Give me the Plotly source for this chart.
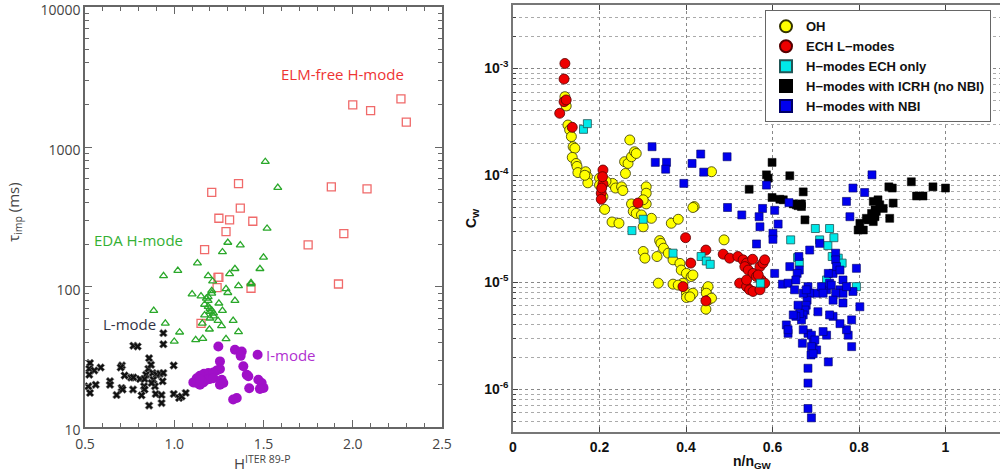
import plotly.graph_objects as go
import numpy as np

# ---------------- Left panel data ----------------
elm_x = [2.00, 2.10, 2.27, 2.30, 1.88, 2.08, 1.21, 1.36, 1.37, 1.25, 1.31, 1.44, 1.29, 1.95, 1.75, 1.17, 1.245, 1.25, 1.24, 1.43, 1.92, 1.15]
elm_y = [2003, 1825, 2210, 1507, 519, 502, 475, 548, 366, 310, 302, 295, 249, 241, 200, 185, 117, 117, 99, 98, 105, 55]

eda_x = [1.51, 1.58, 1.52, 1.30, 1.37, 1.27, 1.13, 1.50, 1.48, 1.34, 1.31, 1.19, 1.02, 0.94, 1.215, 1.43, 1.43, 1.29, 1.36, 1.30,
         1.21, 1.10, 1.15, 1.18, 1.21, 1.25, 1.34, 1.17, 1.19, 1.20, 1.22, 1.27, 1.17, 1.20, 1.245, 1.33, 1.265, 0.885, 0.95, 1.157,
         1.197, 1.03, 1.36, 1.00, 1.12, 1.16, 1.29, 1.19, 1.20, 1.21, 1.22, 1.19]
eda_y = [786, 513, 262, 208, 199, 178, 148, 163, 135, 135, 124, 120, 131, 120, 110, 107, 105, 97, 102, 91,
         94, 89, 86, 83, 90, 76.5, 80, 75, 72.4, 66.7, 64.9, 67.8, 63, 59.8, 57.5, 57.5, 52.7, 67.8, 55, 55,
         49.9, 47.5, 47.8, 40.8, 41.9, 42.8, 42.6, 80, 70, 68, 62, 85]

lmode_x = [0.939, 0.939, 0.771, 0.795, 0.859, 0.997, 0.528, 0.524, 0.588, 0.552, 0.524, 0.707, 0.700, 0.722, 0.758, 0.771, 0.842,
           0.855, 0.870, 0.879, 0.901, 0.883, 0.920, 0.939, 0.640, 0.640, 0.560, 0.519, 0.528, 0.705, 0.711, 0.769, 0.831,
           0.834, 0.892, 0.935, 0.896, 0.929, 0.929, 0.677, 0.817, 0.859, 0.997, 1.027, 1.042, 1.064, 0.808, 0.834, 0.873]
lmode_y = [46.8, 39.0, 38.0, 37.6, 31.0, 27.5, 28.6, 26.0, 26.6, 25.3, 23.6, 27.5, 26.6, 23.3, 22.5, 22.6, 23.6,
           26.0, 27.8, 24.3, 23.6, 21.7, 24.0, 24.3, 21.2, 20.0, 20.0, 19.5, 17.5, 19.0, 18.5, 18.5, 19.5,
           18.5, 19.5, 21.2, 17.2, 16.9, 14.8, 16.9, 16.8, 14.2, 17.2, 16.1, 16.5, 17.5, 22.0, 22.0, 20.6]

imode_x = [1.247, 1.34, 1.378, 1.372, 1.467, 1.256, 1.387, 1.256, 1.406, 1.415, 1.238, 1.219, 1.191, 1.167, 1.144, 1.126, 1.107,
           1.126, 1.144, 1.163, 1.182, 1.20, 1.219, 1.266, 1.256, 1.275, 1.471, 1.49, 1.50, 1.42, 1.48, 1.35, 1.33, 1.154, 1.144]
imode_y = [37.6, 35.6, 34.6, 32.2, 32.8, 29.4, 27.1, 25.9, 23.6, 23.0, 25.3, 24.5, 24.3, 24.0, 23.2, 22.3, 20.8,
           20.6, 20.0, 20.8, 21.7, 22.0, 22.3, 21.7, 20.0, 20.6, 21.7, 20.6, 19.0, 18.9, 18.7, 16.1, 15.7, 21.2, 22.0]

# ---------------- Right panel data ----------------
oh_x = [0.123, 0.120, 0.127, 0.131, 0.135, 0.139, 0.143, 0.137, 0.146, 0.148, 0.150, 0.168, 0.172, 0.173, 0.200, 0.200, 0.212,
        0.208, 0.230, 0.237, 0.251, 0.254, 0.229, 0.245, 0.270, 0.258, 0.266, 0.274, 0.281, 0.285, 0.260, 0.274, 0.278, 0.285,
        0.297, 0.308, 0.308, 0.320, 0.301, 0.366, 0.382, 0.339, 0.342, 0.301, 0.305, 0.333, 0.348, 0.359, 0.370, 0.386, 0.389,
        0.401, 0.412, 0.393, 0.370, 0.382, 0.401, 0.416, 0.447, 0.451, 0.447, 0.451, 0.459, 0.446, 0.401, 0.409, 0.416, 0.419,
        0.416, 0.459, 0.488, 0.336, 0.308, 0.301, 0.166, 0.215]
oh_y = [4.45e-4, 5.43e-4, 2.95e-4, 2.65e-4, 2.3e-4, 1.85e-4, 1.79e-4, 1.47e-4, 1.29e-4, 1.21e-4, 1.06e-4, 1.08e-4, 9.7e-5, 8.5e-5,
        9.4e-5, 8.1e-5, 4.8e-5, 6.3e-5, 8.4e-5, 7.6e-5, 7.8e-5, 7.2e-5, 3.66e-5, 3.56e-5, 2.14e-4, 1.34e-4, 1.29e-4, 1.49e-4,
        1.66e-4, 1.6e-4, 1.04e-4, 5.4e-5, 4.6e-5, 4.4e-5, 4.26e-5, 7.8e-5, 5.4e-5, 3.96e-5, 3.3e-5, 3.56e-5, 3.88e-5, 2.45e-5,
        2.31e-5, 1.94e-5, 1.68e-5, 1.74e-5, 2.08e-5, 1.87e-5, 1.62e-5, 1.5e-5, 1.3e-5, 1.21e-5, 1.13e-5, 9.8e-6, 9.6e-6, 9.4e-6,
        7.9e-6, 7.9e-6, 8.5e-6, 9.1e-6, 7.9e-6, 6.8e-6, 7.1e-6, 5.6e-6, 7.2e-6, 7.3e-6, 1.17e-5, 5.1e-5, 5.0e-5, 1.08e-4,
        2.49e-5, 9.8e-6, 6.8e-5, 5.9e-5, 1.0e-4, 8.8e-5]

ech_x = [0.120, 0.118, 0.118, 0.123, 0.108, 0.137, 0.208, 0.208, 0.204, 0.204, 0.207, 0.205, 0.289, 0.399, 0.411, 0.446, 0.393,
         0.446, 0.486, 0.501, 0.520, 0.532, 0.540, 0.554, 0.536, 0.544, 0.555, 0.571, 0.578, 0.582, 0.563, 0.574, 0.582, 0.524,
         0.540, 0.547, 0.555, 0.571, 0.567, 0.540]
ech_y = [1.11e-3, 7.94e-4, 4.88e-4, 5.06e-4, 3.8e-4, 2.81e-4, 1.12e-4, 8.3e-5, 6.8e-5, 5.97e-5, 9.7e-5, 7.6e-5, 5.5e-5, 2.61e-5,
         1.51e-5, 2.0e-5, 9.1e-6, 6.7e-6, 1.83e-5, 1.68e-5, 1.74e-5, 1.62e-5, 1.51e-5, 1.64e-5, 1.4e-5, 1.3e-5, 1.21e-5, 1.4e-5,
         1.51e-5, 1.62e-5, 1.13e-5, 1.05e-5, 9.8e-6, 9.8e-6, 9.1e-6, 8.5e-6, 8.2e-6, 8.5e-6, 1.17e-5, 1.05e-5]

echh_x = [0.163, 0.172, 0.275, 0.301, 0.370, 0.435, 0.447, 0.456, 0.572, 0.699, 0.732, 0.709, 0.728, 0.742, 0.642, 0.658, 0.662,
          0.752, 0.761, 0.794, 0.725, 0.738]
echh_y = [2.69e-4, 3.04e-4, 3.04e-5, 3.88e-5, 1.87e-5, 1.74e-5, 1.58e-5, 1.47e-5, 9.8e-6, 3.18e-5, 3.18e-5, 2.49e-5, 2.2e-5,
          2.61e-5, 2.49e-5, 1.7e-5, 1.54e-5, 1.68e-5, 1.51e-5, 9.1e-6, 1.05e-5, 1.74e-5]

icrh_x = [0.599, 0.586, 0.590, 0.640, 0.546, 0.599, 0.617, 0.625, 0.648, 0.659, 0.667, 0.671, 0.675, 0.667, 0.655, 0.823, 0.802,
          0.798, 0.810, 0.821, 0.833, 0.837, 0.840, 0.833, 0.844, 0.848, 0.856, 0.837, 0.871, 0.879, 0.869, 0.877, 0.921, 0.933,
          0.948, 0.971, 1.000, 0.817, 0.829]
icrh_y = [1.32e-4, 1.01e-4, 9.4e-5, 9.9e-5, 7.4e-5, 6.2e-5, 5.97e-5, 5.9e-5, 5.4e-5, 5.2e-5, 5.4e-5, 7.0e-5, 3.83e-5, 5.1e-5,
          5.3e-5, 3.88e-5, 3.56e-5, 3.08e-5, 3.08e-5, 3.83e-5, 3.69e-5, 4.1e-5, 4.6e-5, 5.7e-5, 5.9e-5, 5.3e-5, 4.9e-5, 4.75e-5,
          3.96e-5, 5.5e-5, 7.8e-5, 7.6e-5, 8.7e-5, 6.4e-5, 6.4e-5, 7.8e-5, 7.6e-5, 3.96e-5, 4.4e-5]

nbi_x = [0.3215, 0.329, 0.355, 0.353, 0.414, 0.434, 0.441, 0.495, 0.395, 0.496, 0.529, 0.577, 0.569, 0.571, 0.563, 0.586, 0.605,
         0.613, 0.601, 0.601, 0.638, 0.605, 0.623, 0.636, 0.640, 0.661, 0.662, 0.686, 0.709, 0.746, 0.746, 0.771, 0.779, 0.786,
         0.813, 0.830, 0.794, 0.802, 0.786, 0.783, 0.783, 0.775, 0.771, 0.756, 0.740, 0.732, 0.725, 0.717, 0.729, 0.705, 0.702,
         0.682, 0.686, 0.680, 0.678, 0.675, 0.671, 0.667, 0.663, 0.659, 0.654, 0.648, 0.682, 0.671, 0.690, 0.694, 0.702, 0.698,
         0.690, 0.689, 0.694, 0.682, 0.682, 0.682, 0.690, 0.669, 0.636, 0.632, 0.636, 0.725, 0.732, 0.736, 0.740, 0.748, 0.756,
         0.763, 0.756, 0.763, 0.771, 0.746, 0.740, 0.763, 0.729, 0.713, 0.717, 0.657, 0.654, 0.651, 0.671, 0.678]
nbi_y = [1.85e-4, 1.32e-4, 1.32e-4, 1.14e-4, 1.29e-4, 1.58e-4, 1.07e-4, 1.49e-4, 8.4e-5, 5.0e-5, 4.26e-5, 4.9e-5, 4.1e-5, 3.3e-5,
         2.28e-5, 8.1e-5, 4.7e-5, 3.5e-5, 2.87e-5, 2.52e-5, 5.55e-5, 1.21e-5, 9.6e-6, 9.8e-6, 1.4e-5, 1.74e-5, 1.3e-5, 2.0e-5,
         2.31e-5, 1.87e-5, 1.62e-5, 5.7e-5, 4.1e-5, 7.6e-5, 6.9e-5, 1.01e-4, 1.35e-5, 5.9e-6, 8.2e-6, 4.45e-6, 2.5e-6, 3.2e-6,
         3.6e-6, 4.1e-6, 4.8e-6, 4.95e-6, 3.2e-6, 3.46e-6, 1.8e-6, 5.3e-6, 7.9e-6, 9.1e-6, 7.9e-6, 6.8e-6, 6.1e-6, 5.5e-6,
         4.95e-6, 4.45e-6, 5.1e-6, 6.1e-6, 4.8e-6, 4.95e-6, 3.33e-6, 3.6e-6, 3.2e-6, 2.69e-6, 2.33e-6, 2.89e-6, 2.5e-6, 2.09e-6,
         2.15e-6, 1.57e-6, 1.14e-6, 6.6e-7, 5.4e-7, 2.69e-6, 3.33e-6, 3.99e-6, 3.6e-6, 8.5e-6, 9.8e-6, 9.4e-6, 1.21e-5, 1.4e-5,
         1.3e-5, 1.05e-5, 8.5e-6, 7.9e-6, 9.1e-6, 7.9e-6, 6.8e-6, 6.4e-6, 1.21e-5, 9.1e-6, 7.9e-6, 1.21e-5, 1.05e-5, 8.5e-6,
         7.9e-6, 8.5e-6]

left_xticks = [0.5, 1.0, 1.5, 2.0, 2.5]
left_yticks = [10, 100, 1000, 10000]
right_xticks = [0, 0.2, 0.4, 0.6, 0.8, 1]
right_yticks = [1e-6, 1e-5, 1e-4, 1e-3]
right_yticktext = ["10<sup>-6</sup>", "10<sup>-5</sup>", "10<sup>-4</sup>", "10<sup>-3</sup>"]

fig = go.Figure()

# Left panel traces
fig.add_trace(go.Scatter(x=elm_x, y=elm_y, mode="markers", xaxis="x", yaxis="y", showlegend=False,
                         marker=dict(symbol="square-open", size=8, color="#f06a6a", line=dict(width=1.3))))
fig.add_trace(go.Scatter(x=eda_x, y=eda_y, mode="markers", xaxis="x", yaxis="y", showlegend=False,
                         marker=dict(symbol="triangle-up-open", size=7, color="#2aa82a", line=dict(width=1.3))))
fig.add_trace(go.Scatter(x=lmode_x, y=lmode_y, mode="markers", xaxis="x", yaxis="y", showlegend=False,
                         marker=dict(symbol="x", size=7, color="#111111", line=dict(width=0.6, color="#777777"))))
fig.add_trace(go.Scatter(x=imode_x, y=imode_y, mode="markers", xaxis="x", yaxis="y", showlegend=False,
                         marker=dict(symbol="circle", size=10, color="#a010c8", line=dict(width=0))))

# Right panel traces
fig.add_trace(go.Scatter(x=oh_x, y=oh_y, mode="markers", xaxis="x2", yaxis="y2", name="OH",
                         marker=dict(symbol="circle", size=10, color="#ffff00", line=dict(width=0.8, color="#333300"))))
fig.add_trace(go.Scatter(x=ech_x, y=ech_y, mode="markers", xaxis="x2", yaxis="y2", name="ECH L\u2212modes",
                         marker=dict(symbol="circle", size=10, color="#ee0000", line=dict(width=0.8, color="#550000"))))
fig.add_trace(go.Scatter(x=echh_x, y=echh_y, mode="markers", xaxis="x2", yaxis="y2", name="H\u2212modes ECH only",
                         marker=dict(symbol="square", size=8, color="#00e8e8", line=dict(width=0.8, color="#225555"))))
fig.add_trace(go.Scatter(x=icrh_x, y=icrh_y, mode="markers", xaxis="x2", yaxis="y2", name="H\u2212modes with ICRH (no NBI)",
                         marker=dict(symbol="square", size=8, color="#000000", line=dict(width=0.5, color="#000000"))))
fig.add_trace(go.Scatter(x=nbi_x, y=nbi_y, mode="markers", xaxis="x2", yaxis="y2", name="H\u2212modes with NBI",
                         marker=dict(symbol="square", size=8, color="#0000ee", line=dict(width=0.6, color="#000066"))))

gray = "#666666"
left_font = dict(family="Open Sans, Noto Sans, sans-serif", size=14, color="#444444")
right_font = dict(family="Liberation Sans, Arial, sans-serif", size=14, color="#111", weight="bold")

minor_left_y = [m * 10 ** e for e in range(1, 4) for m in range(2, 10)]
minor_right_y = [m * 10 ** e for e in range(-7, -2) for m in range(2, 10)]

fig.update_layout(
    width=1000, height=473,
    margin=dict(l=0, r=0, t=0, b=0, autoexpand=False),
    paper_bgcolor="white", plot_bgcolor="white",
    xaxis=dict(domain=[0.085, 0.442], range=[0.5, 2.5], tickvals=left_xticks, tickformat=".1f",
               ticks="inside", ticklen=7, tickcolor=gray, showline=True, linecolor=gray, linewidth=1.5,
               mirror="allticks", showgrid=False, zeroline=False, tickfont=left_font, anchor="y",
               ticklabelstandoff=3, ticklabeloverflow="allow", automargin=False,
               minor=dict(dtick=0.1, ticks="inside", ticklen=4, tickcolor=gray, showgrid=False)),
    yaxis=dict(domain=[0.0973, 0.985], type="log", range=[0.9995, 4.0005], tickvals=left_yticks,
               ticktext=[str(v) for v in left_yticks], ticklabeloverflow="allow", automargin=False,
               ticklabelshift=3,
               ticks="inside", ticklen=7, tickcolor=gray, showline=True, linecolor=gray, linewidth=1.5,
               mirror="allticks", showgrid=False, zeroline=False, tickfont=left_font, anchor="x",
               minor=dict(tickvals=minor_left_y, ticks="inside", ticklen=4, tickcolor=gray, showgrid=False)),
    xaxis2=dict(domain=[0.513, 1.0], range=[0, 1.126], tickvals=right_xticks,
                ticktext=["0", "0.2", "0.4", "0.6", "0.8", "1"],
                ticks="inside", ticklen=5, tickcolor="#444", showline=True, linecolor="#777", linewidth=1.5,
                mirror="ticks", showgrid=True, gridcolor="#888", griddash="dot", gridwidth=1, zeroline=False,
                tickfont=right_font, anchor="y2", ticklabelstandoff=1, ticklabeloverflow="allow", automargin=False),
    yaxis2=dict(domain=[0.0867, 0.9894], type="log", range=[-6.4, -2.408], tickvals=right_yticks,
                ticktext=right_yticktext, ticks="inside", ticklen=5, tickcolor="#444",
                showline=True, linecolor="#777", linewidth=1.5, mirror=False,
                showgrid=True, gridcolor="#888", griddash="dot", gridwidth=1, zeroline=False,
                tickfont=right_font, anchor="x2", ticklabeloverflow="allow", automargin=False,
                minor=dict(tickvals=minor_right_y, ticks="inside", ticklen=3, tickcolor="#444",
                           showgrid=True, gridcolor="#aaa", griddash="dot", gridwidth=1)),
    legend=dict(x=0.765, y=0.978, xanchor="left", yanchor="top", bgcolor="white",
                bordercolor="#666", borderwidth=1,
                font=dict(family="Liberation Sans, Arial, sans-serif", size=13, color="#111", weight="bold"),
                tracegroupgap=0, itemsizing="constant", itemwidth=30),
    showlegend=True,
)

sans = "Open Sans, Noto Sans, sans-serif"
ann = [
    dict(x=1.945, y=np.log10(3311), xref="x", yref="y", text="ELM-free H-mode", showarrow=False,
         xanchor="center", yanchor="middle", font=dict(family=sans, size=15, color="#ee3333")),
    dict(x=0.80, y=np.log10(217), xref="x", yref="y", text="EDA H-mode", showarrow=False,
         xanchor="center", yanchor="middle", font=dict(family=sans, size=15, color="#33b033")),
    dict(x=0.752, y=np.log10(54.4), xref="x", yref="y", text="L-mode", showarrow=False,
         xanchor="center", yanchor="middle", font=dict(family=sans, size=15, color="#333344")),
    dict(x=1.50, y=np.log10(32.7), xref="x", yref="y", text="I-mode", showarrow=False,
         xanchor="left", yanchor="middle", font=dict(family=sans, size=15, color="#b030d0")),
    # axis titles
    dict(x=14 / 1000, y=1 - 212 / 473, xref="paper", yref="paper", text="\u03c4<sub>imp</sub> (ms)", textangle=-90,
         xanchor="center", yanchor="middle", showarrow=False, font=dict(family=sans, size=15, color="#444444")),
    dict(x=262 / 1000, y=1 - 462 / 473, xref="paper", yref="paper", text="H<sup>ITER 89-P</sup>",
         xanchor="center", yanchor="middle", showarrow=False, font=dict(family=sans, size=15, color="#444444")),
    dict(x=472 / 1000, y=1 - 218 / 473, xref="paper", yref="paper", text="C<sub>W</sub>", textangle=-90,
         xanchor="center", yanchor="middle", showarrow=False,
         font=dict(family="Liberation Sans, Arial, sans-serif", size=14, color="#111", weight="bold")),
    dict(x=752 / 1000, y=1 - 462 / 473, xref="paper", yref="paper", text="n/n<sub>GW</sub>",
         xanchor="center", yanchor="middle", showarrow=False,
         font=dict(family="Liberation Sans, Arial, sans-serif", size=14, color="#111", weight="bold")),
]
fig.update_layout(annotations=ann)

fig.write_html("out.html")
